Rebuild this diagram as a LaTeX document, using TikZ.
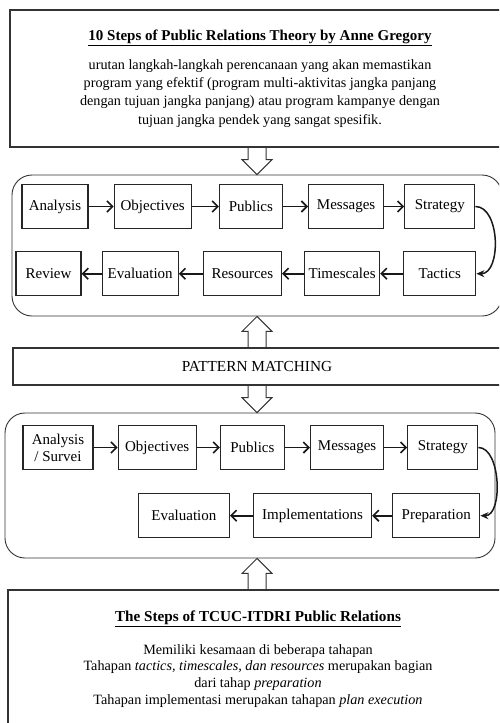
\documentclass[tikz,border=0pt]{standalone}
\usepackage{fontspec}
\setmainfont{Liberation Serif}
\usetikzlibrary{arrows.meta, positioning, calc}
\tikzset{
  infobox/.style={draw=black!80, line width=1.1pt, align=center, inner sep=0pt},
  group/.style={draw=black!80, line width=0.9pt, rounded corners=20pt, inner sep=0pt},
  stepbox/.style={draw=black!85, line width=1.2pt, minimum height=44pt, inner sep=3pt,
                  align=center, font=\fontsize{15}{17}\selectfont},
  arr/.style={-{Straight Barb[length=5.5pt,width=11pt]}, line width=1.6pt, draw=black!90},
  turn/.style={-{Stealth[length=8pt,width=7pt]}, line width=1.5pt, draw=black!90},
  fatarr/.style={draw=black!80, line width=1pt, line join=miter},
}
% hollow block arrow, from #1 to #2 (vertical)
\newcommand{\fatarrow}[2]{%
  \draw[fatarr] let \p1=(#1), \p2=(#2), \p3=($(#2)!15pt!(#1)$) in
    (\x1-9pt,\y1) -- (\x1-9pt,\y3) -- (\x1-15pt,\y3) -- (\p2)
    -- (\x1+15pt,\y3) -- (\x1+9pt,\y3) -- (\x1+9pt,\y1);}

\begin{document}
\begin{tikzpicture}[x=1pt, y=-1pt]
\useasboundingbox (0,0) rectangle (499,723);
\clip (0,0) rectangle (499,723);

% theory box
\node[infobox, minimum width=500pt, minimum height=137pt,
      font=\fontsize{14.2}{18.3}\selectfont] (theory) at (260,78.5)
  {{\fontsize{15}{15}\selectfont\underline{\textbf{10 Steps of Public Relations Theory by Anne Gregory}}}\\[10.7pt]
   urutan langkah-langkah perencanaan yang akan memastikan\\
   program yang efektif (program multi-aktivitas jangka panjang\\
   dengan tujuan jangka panjang) atau program kampanye dengan\\
   tujuan jangka pendek yang sangat spesifik.};

% Gregory steps
\node[group, minimum width=490pt, minimum height=141pt] (grp1) at (257,245.5) {};

\node[stepbox, minimum width=66pt] (ana1) at (55,206.5) {Analysis};
\node[stepbox, minimum width=77pt, right=25pt of ana1] (obj1) {Objectives};
\node[stepbox, minimum width=63pt, right=27pt of obj1] (pub1) {Publics};
\node[stepbox, minimum width=75pt, right=25pt of pub1] (msg1) {Messages};
\node[stepbox, minimum width=70pt, right=20pt of msg1] (str1) {Strategy};
\node[stepbox, minimum width=72pt, below=22pt of str1] (tac1) {Tactics};
\node[stepbox, minimum width=75pt, left=23pt of tac1] (tim1) {Timescales};
\node[stepbox, minimum width=78pt, left=22pt of tim1] (res1) {Resources};
\node[stepbox, minimum width=76pt, left=24pt of res1] (eva1) {Evaluation};
\node[stepbox, minimum width=65pt, left=20pt of eva1] (rev1) {Review};

\foreach \a/\b in {ana1/obj1, obj1/pub1, pub1/msg1, msg1/str1,
                   tac1/tim1, tim1/res1, res1/eva1, eva1/rev1}
  \draw[arr] (\a) -- (\b);
\draw[turn] (str1.east) to[out=0, in=0, looseness=0.95] (tac1.east);

% pattern matching
\node[infobox, minimum width=488pt, minimum height=37pt,
      font=\fontsize{15.3}{15.3}\selectfont] (match) at (257,366.5) {PATTERN MATCHING};

% TCUC-ITDRI steps
\node[group, minimum width=490pt, minimum height=145pt] (grp2) at (250,485.5) {};

\node[stepbox, minimum width=70pt] (ana2) at (58,447.5) {Analysis\\/ Survei};
\node[stepbox, minimum width=78pt, right=24pt of ana2] (obj2) {Objectives};
\node[stepbox, minimum width=64pt, right=23pt of obj2] (pub2) {Publics};
\node[stepbox, minimum width=73pt, right=25pt of pub2] (msg2) {Messages};
\node[stepbox, minimum width=70pt, right=23pt of msg2] (str2) {Strategy};
\node[stepbox, minimum width=87pt, below=23pt of str2, xshift=-6.5pt] (prep2) {Preparation};
\node[stepbox, minimum width=118pt, left=20pt of prep2] (imp2) {Implementations};
\node[stepbox, minimum width=91pt, left=23pt of imp2] (eva2) {Evaluation};

\foreach \a/\b in {ana2/obj2, obj2/pub2, pub2/msg2, msg2/str2,
                   prep2/imp2, imp2/eva2}
  \draw[arr] (\a) -- (\b);
\draw[turn] (str2.east) to[out=0, in=0, looseness=0.85] (prep2.east);

% TCUC-ITDRI box
\node[infobox, minimum width=500pt, minimum height=138pt,
      font=\fontsize{14.2}{16.8}\selectfont] (tcuc) at (258,659)
  {{\fontsize{15.2}{15.2}\selectfont\underline{\textbf{The Steps of TCUC-ITDRI Public Relations}}}\\[16pt]
   Memiliki kesamaan di beberapa tahapan\\
   Tahapan \textit{tactics, timescales, dan resources} merupakan bagian\\
   dari tahap \textit{preparation}\\
   Tahapan implementasi merupakan tahapan \textit{plan execution}};

% block arrows
\fatarrow{theory.south -| match.center}{grp1.north -| match.center}
\fatarrow{match.north}{grp1.south -| match.center}
\fatarrow{match.south}{grp2.north -| match.center}
\fatarrow{tcuc.north -| match.center}{grp2.south -| match.center}

\end{tikzpicture}
\end{document}
